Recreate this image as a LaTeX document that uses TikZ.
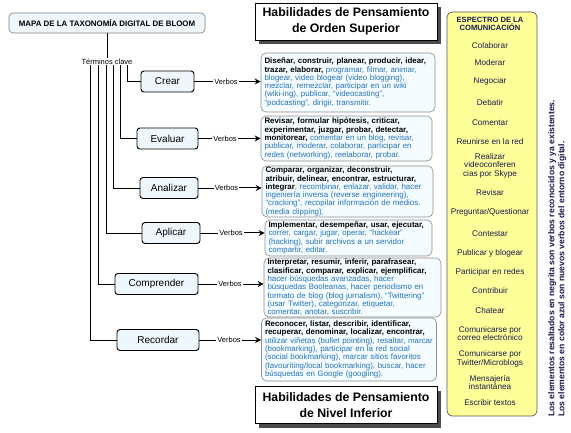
\documentclass[tikz,border=0pt]{standalone}
\usepackage{fontspec}
\setmainfont{Liberation Sans}
\usetikzlibrary{arrows.meta,shadows}
\definecolor{tblue}{RGB}{35,115,185}
\definecolor{lblfill}{RGB}{238,248,252}
\definecolor{txtfill}{RGB}{245,252,255}
\definecolor{yel}{RGB}{255,255,153}
\definecolor{navy}{RGB}{25,25,75}
\newcommand\vb[1]{\textbf{\textcolor{black}{#1}}}
\begin{document}
\begin{tikzpicture}[x=1pt,y=-1pt,
  titlebox/.style={draw=black!50, fill=lblfill, rounded corners=4pt, line width=0.6pt, font=\bfseries\fontsize{7.9}{9}\selectfont, minimum width=196pt, minimum height=20pt, inner sep=0pt},
  lbl/.style={draw=black, fill=lblfill, rounded corners=3pt, line width=0.9pt, font=\fontsize{10}{12}\selectfont, minimum height=21pt, inner sep=0pt},
  tbox/.style={draw=black!45, fill=txtfill, rounded corners=5pt, line width=0.6pt, font=\fontsize{7.9}{8.3}\selectfont, text=tblue, align=left, inner xsep=3.5pt, inner ysep=0pt},
  verb/.style={font=\fontsize{7.5}{9}\selectfont, inner sep=1pt},
  conn/.style={line width=0.9pt},
  arr/.style={line width=1pt, -{Stealth[length=6pt,width=6pt]}},
  head/.style={draw=black, fill=white, line width=0.6pt, font=\bfseries\fontsize{12.3}{16.5}\selectfont, align=center, minimum width=182pt, minimum height=37pt, inner sep=0pt, drop shadow={shadow xshift=4pt, shadow yshift=-4pt, fill=black!70, opacity=1}},
  item/.style={font=\fontsize{8.2}{8.6}\selectfont, text=navy, align=center, inner sep=0pt}
]
\useasboundingbox[fill=white] (0,0) rectangle (571,433);

% title and key terms
\node[titlebox] (title) at (107,23) {MAPA DE LA TAXONOMÍA DIGITAL DE BLOOM};
\node[font=\fontsize{7.5}{9}\selectfont, inner sep=1pt] (tc) at (107,61.5) {Términos clave};
\draw[conn] (title.south) -- (tc.north);

% level labels
\node[lbl, minimum width=53pt] (crear) at (167.5,81.5) {Crear};
\node[lbl, minimum width=61pt] (evaluar) at (167.5,138.5) {Evaluar};
\node[lbl, minimum width=58pt] (analizar) at (169,188) {Analizar};
\node[lbl, minimum width=58pt] (aplicar) at (171,233) {Aplicar};
\node[lbl, minimum width=83pt] (comprender) at (156.5,284) {Comprender};
\node[lbl, minimum width=82pt] (recordar) at (158,340) {Recordar};

\draw[conn] ([xshift=20pt]tc.south) |- (crear.west);
\draw[conn] ([xshift=13pt]tc.south) |- (evaluar.west);
\draw[conn] ([xshift=6pt]tc.south) |- (analizar.west);
\draw[conn] ([xshift=-1pt]tc.south) |- (aplicar.west);
\draw[conn] ([xshift=-9pt]tc.south) |- (comprender.west);
\draw[conn] ([xshift=-17pt]tc.south) |- (recordar.west);

% headers
\node[head] (hs) at (346,21.5) {Habilidades de Pensamiento\\de Orden Superior};
\node[head] (hi) at (346,405) {Habilidades de Pensamiento\\de Nivel Inferior};

% verb boxes
\node[tbox, text width=167pt, minimum height=59pt] (tcrear) at (348,82.5) {%
\vb{Diseñar, construir, planear, producir, idear,}\\
\vb{trazar, elaborar,} programar, filmar, animar,\\
blogear, video blogear (video blogging),\\
mezclar, remezclar, participar en un wiki\\
(wiki-ing), publicar, “videocasting”,\\
“podcasting”, dirigir, transmitir.};
\node[tbox, text width=164pt, minimum height=45pt] (tevaluar) at (346.5,138.5) {%
\vb{Revisar, formular hipótesis, criticar,}\\
\vb{experimentar, juzgar, probar, detectar,}\\
\vb{monitorear,} comentar en un blog, revisar,\\
publicar, moderar, colaborar, participar en\\
redes (networking), reelaborar, probar.};
\node[tbox, text width=164pt, minimum height=51pt] (tanalizar) at (347.5,191.5) {%
\vb{Comparar, organizar, deconstruir,}\\
\vb{atribuir, delinear, encontrar, estructurar,}\\
\vb{integrar}, recombinar, enlazar, validar, hacer\\
ingeniería inversa (reverse engineering),\\
“cracking”, recopilar información de medios.\\
(media clipping).};
\node[tbox, text width=160pt, minimum height=36pt] (taplicar) at (348.5,238) {%
\vb{Implementar, desempeñar, usar, ejecutar,}\\
correr, cargar, jugar, operar, "hackear"\\
(hacking), subir archivos a un servidor\\
compartir, editar.};
\node[tbox, text width=170pt, minimum height=59pt] (tcomprender) at (352.5,287.5) {%
\vb{Interpretar, resumir, inferir, parafrasear,}\\
\vb{clasificar, comparar, explicar, ejemplificar,}\\
hacer búsquedas avanzadas, hacer\\
búsquedas Booleanas, hacer periodismo en\\
formato de blog (blog jurnalism), “Twittering”\\
(usar Twitter), categorizar, etiquetar,\\
comentar, anotar, suscribir.};
\node[tbox, text width=168pt, minimum height=63pt] (trecordar) at (349,349.5) {%
\vb{Reconocer, listar, describir, identificar,}\\
\vb{recuperar, denominar, localizar, encontrar,}\\
\mbox{utilizar viñetas (bullet pointing), resaltar, marcar}\\
(bookmarking), participar en la red social\\
(social bookmarking), marcar sitios favoritos\\
\mbox{(favouriting/local bookmarking), buscar, hacer}\\
búsquedas en Google (googling).};

% Verbos connectors
\node[verb] (v1) at (226,81.5) {Verbos};
\node[verb] (v2) at (225,138.5) {Verbos};
\node[verb] (v3) at (226.5,188) {Verbos};
\node[verb] (v4) at (231,233) {Verbos};
\node[verb] (v5) at (230,284) {Verbos};
\node[verb] (v6) at (229,340) {Verbos};
\draw[conn] (crear.east) -- (v1.west);
\draw[conn] (evaluar.east) -- (v2.west);
\draw[conn] (analizar.east) -- (v3.west);
\draw[conn] (aplicar.east) -- (v4.west);
\draw[conn] (comprender.east) -- (v5.west);
\draw[conn] (recordar.east) -- (v6.west);
\draw[arr] (v1.east) -- (v1.east -| tcrear.west);
\draw[arr] (v2.east) -- (v2.east -| tevaluar.west);
\draw[arr] (v3.east) -- (v3.east -| tanalizar.west);
\draw[arr] (v4.east) -- (v4.east -| taplicar.west);
\draw[arr] (v5.east) -- (v5.east -| tcomprender.west);
\draw[arr] (v6.east) -- (v6.east -| trecordar.west);

% communication spectrum
\node[draw=black!65, fill=yel, rounded corners=5pt, line width=0.7pt, minimum width=90pt, minimum height=404pt, inner sep=0pt] (spec) at (492,214) {};
\node[item, font=\bfseries\fontsize{7.6}{8.3}\selectfont] (sh) at (490,24) {ESPECTRO DE LA\\COMUNICACIÓN};
\node[item] (c1) at (490,46) {Colaborar};
\node[item] (c2) at (490,63) {Moderar};
\node[item] (c3) at (490,81) {Negociar};
\node[item] (c4) at (490,103) {Debatir};
\node[item] (c5) at (490,123) {Comentar};
\node[item] (c6) at (490,142) {Reunirse en la red};
\node[item] (c7) at (490,165.5) {Realizar\\videoconferen\\cias por Skype};
\node[item] (c8) at (490,193) {Revisar};
\node[item] (c9) at (490,212) {Preguntar/Questionar};
\node[item] (c10) at (490,234) {Contestar};
\node[item] (c11) at (490,253) {Publicar y blogear};
\node[item] (c12) at (490,272) {Participar en redes};
\node[item] (c13) at (490,291) {Contribuir};
\node[item] (c14) at (490,311) {Chatear};
\node[item] (c15) at (490,333.5) {Comunicarse por\\correo electrónico};
\node[item] (c16) at (490,359) {Comunicarse por\\Twitter/Microblogs};
\node[item] (c17) at (490,382.5) {Mensajería\\instantánea};
\node[item] (c18) at (490,403) {Escribir textos};

% side note
\node[rotate=90, anchor=north west, align=left, inner sep=0pt, text=navy, font=\bfseries\fontsize{8.6}{10}\selectfont] (note) at (548,417) {Los elementos resaltados en negrita son verbos reconocidos y ya existentes.\\Los elementos en color azul son nuevos verbos del entorno digital.};
\end{tikzpicture}
\end{document}
